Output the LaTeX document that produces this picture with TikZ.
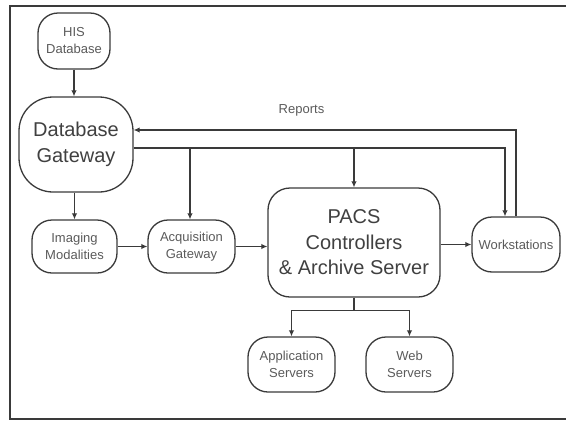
\documentclass[tikz,border=0pt]{standalone}
\usepackage{fontspec}
\setmainfont{Liberation Sans}
\usetikzlibrary{arrows.meta}
\definecolor{ln}{HTML}{3A3A3A}
\definecolor{txs}{HTML}{5A5A5A}
\definecolor{txb}{HTML}{404040}
\begin{document}
\begin{tikzpicture}[x=1pt,y=-1pt,
  box/.style={draw=ln,line width=1.3pt,rounded corners=20pt,align=center,inner sep=0pt,
    text=txs,font=\fontsize{13}{17}\selectfont},
  bigbox/.style={box,text=txb,font=\fontsize{20}{25.5}\selectfont,rounded corners=34pt},
  arr/.style={draw=ln,line width=1.3pt,-{Latex[length=6pt,width=5.5pt]}},
  ln/.style={draw=ln,line width=1.3pt}]
\useasboundingbox (0,0) rectangle (566,421);
\draw[draw=ln,line width=1.6pt] (566,6) -- (10,6) -- (10,419) -- (566,419);

\node[box,minimum width=72pt,minimum height=56pt] (his) at (74,41) {HIS\\Database};
\node[bigbox,minimum width=114pt,minimum height=95pt] (db) at (76,144.5) {Database\\Gateway};
\node[box,minimum width=85pt,minimum height=53pt] (img) at (74.5,246.5) {Imaging\\Modalities};
\node[box,minimum width=87pt,minimum height=53pt] (acq) at (191.5,246.5) {Acquisition\\Gateway};
\node[bigbox,rounded corners=22pt,minimum width=172pt,minimum height=109pt] (pacs) at (354,242.5) {PACS\\Controllers\\\& Archive Server};
\node[box,minimum width=88pt,minimum height=55pt] (ws) at (516,244.5) {Workstations};
\node[box,minimum width=87pt,minimum height=55pt] (app) at (291.5,364.5) {Application\\Servers};
\node[box,minimum width=87pt,minimum height=55pt] (web) at (409.5,364.5) {Web\\Servers};
\node[text=txs,font=\fontsize{13}{16}\selectfont,inner sep=0pt] (rep) at (301.5,110) {Reports};

\draw[arr] (his.south) -- (his.south |- db.north);
\draw[arr] (img.north |- db.south) -- (img.north);
\draw[arr] (ws.north) |- ([yshift=14.5pt]db.east);
\coordinate (bus) at ([yshift=-3.5pt]db.east);
\draw[arr] (bus) -| ([xshift=-11pt]ws.north);
\draw[arr] (bus -| 190,0) -- (190,0 |- acq.north);
\draw[arr] (bus -| pacs.north) -- (pacs.north);
\draw[arr] (img.east) -- (acq.west);
\draw[arr] (acq.east) -- (acq.east -| pacs.west);
\draw[arr] (ws.west -| pacs.east) -- (ws.west);
\coordinate (split) at ([yshift=-13pt]pacs.south);
\draw[ln] (pacs.south) -- (split);
\draw[arr] (split) -| (app.north);
\draw[arr] (split) -| (web.north);
\end{tikzpicture}
\end{document}
